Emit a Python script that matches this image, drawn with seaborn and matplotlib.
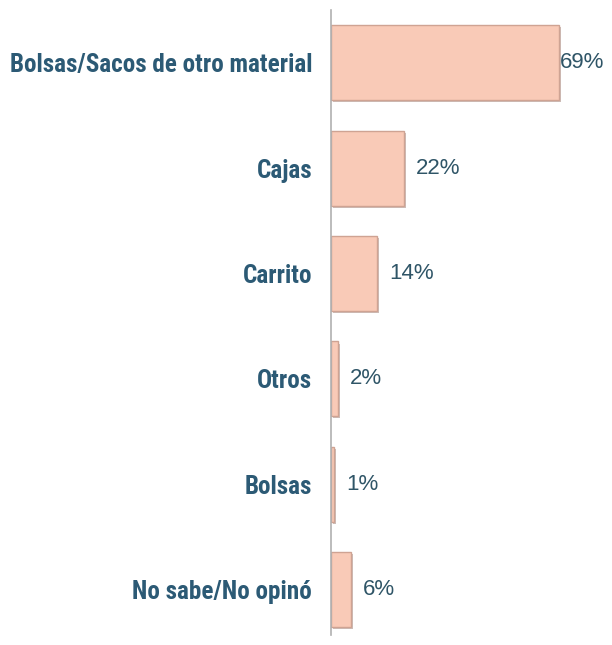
import matplotlib
matplotlib.use("Agg")
import matplotlib.pyplot as plt
import matplotlib.patheffects as pe
from matplotlib import font_manager as fm
import seaborn as sns
import pandas as pd

categories = ["Bolsas/Sacos de otro material", "Cajas", "Carrito", "Otros", "Bolsas", "No sabe/No opinó"]
values = [69, 22, 14, 2, 1, 6]
value_labels = ["69%", "22%", "14%", "2%", "1%", "6%"]

df = pd.DataFrame({"cat": categories, "val": values})

sns.set_theme(style="white")

# find a bold condensed/narrow font file if present
def find_font():
    cands = []
    for f in fm.fontManager.ttflist:
        nm = f.name + " " + f.fname
        if ("Narrow" in nm or "Condensed" in nm):
            w = f.weight if isinstance(f.weight, int) else (700 if "bold" in str(f.weight).lower() else 400)
            italic = f.style != "normal"
            cands.append((w >= 600 and not italic, "Liberation" in nm, not italic, f.fname))
    if not cands:
        return None
    cands.sort(reverse=True)
    return cands[0][3]

fpath = find_font()
if fpath:
    label_fp = fm.FontProperties(fname=fpath)
else:
    label_fp = fm.FontProperties(family=["Roboto", "DejaVu Sans"], weight="bold")

fig = plt.figure(figsize=(6.12, 6.45), dpi=100)
ax = fig.add_axes([331/612, 10/645, (612-331)/612, 625/645])

sns.barplot(data=df, x="val", y="cat", orient="h", ax=ax, color="#F9CAB7",
            width=0.71, edgecolor="#CFA393", linewidth=1.0, saturation=1)
for p in ax.patches:
    p.set_path_effects([pe.SimplePatchShadow(offset=(1.5, -1.5), shadow_rgbFace="#9a7d72", alpha=0.5), pe.Normal()])

ax.set_xlim(0, (612-331)/3.3)
ax.set_ylim(5.43, -0.5)
ax.set_xlabel("")
ax.set_ylabel("")
ax.set_xticks([])
for s in ["top", "right", "bottom"]:
    ax.spines[s].set_visible(False)
ax.spines["left"].set_color("#b0b0b0")
ax.spines["left"].set_linewidth(1.2)

ax.tick_params(axis="y", length=0, pad=13.5)
for t in ax.get_yticklabels():
    t.set_fontproperties(label_fp)
    t.set_fontsize(15)
    t.set_color("#2C5A75")

# fit label size so the longest label spans ~302 px
fig.canvas.draw()
r = fig.canvas.get_renderer()
longest = ax.get_yticklabels()[0]
w = longest.get_window_extent(r).width
size = 15 * 302 / w
for t in ax.get_yticklabels():
    t.set_fontsize(size)

for i, (v, lab) in enumerate(zip(values, value_labels)):
    off = 0.4 if v > 60 else 3.6
    ax.text(v + off, i, lab, va="center", ha="left", fontsize=16,
            color="#2F5567", family=["Liberation Sans", "DejaVu Sans"])

fig.savefig("out.png", dpi=100)
